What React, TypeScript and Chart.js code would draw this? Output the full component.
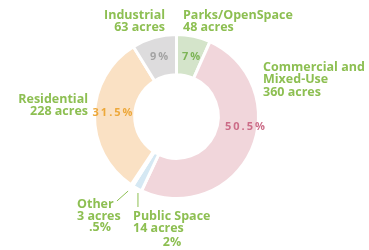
import React, { useEffect, useRef } from "react";
import { Chart, registerables } from "chart.js";

Chart.register(...registerables);

const categories = ["Parks/OpenSpace", "Commercial and Mixed-Use", "Public Space", "Other", "Residential", "Industrial"];
const acres = [48, 360, 14, 3, 228, 63];
const percentLabels = ["7%", "50.5%", "2%", ".5%", "31.5%", "9%"];
const sliceColors = ["#d4e4ca", "#f1d6db", "#d5e8f3", "#e4eef4", "#fae1c4", "#dddcdd"];
const percentColors = ["#7db456", "#cc6d88", "#8dbf52", "#8dbf52", "#eda83a", "#a3a3a3"];

const LABEL_GREEN = "#8dbf52";
const FONT = "'Open Sans', 'DejaVu Sans', sans-serif";

const labelPlugin = {
  id: "donutLabels",
  afterDraw(chart: any) {
    const ctx = chart.ctx as CanvasRenderingContext2D;
    const meta = chart.getDatasetMeta(0);
    const arc0 = meta.data[0] as any;
    const cx = arc0.x;
    const cy = arc0.y;
    const R = arc0.outerRadius;
    const P = (fx: number, fy: number) => [cx + fx * R, cy + fy * R];

    ctx.save();
    ctx.textBaseline = "middle";

    const lines = (txts: string[], fx: number, fy: number, align: CanvasTextAlign, color: string, lh = 12.7) => {
      const [x, y] = P(fx, fy);
      ctx.fillStyle = color;
      ctx.textAlign = align;
      ctx.font = `bold 12.5px ${FONT}`;
      txts.forEach((t, i) => ctx.fillText(t, x, y + i * lh));
    };

    // outer labels
    lines(["Industrial", `${acres[5]} acres`], -0.14, -1.238, "right", LABEL_GREEN);
    lines(["Parks/OpenSpace", `${acres[0]} acres`], 0.079, -1.238, "left", LABEL_GREEN);
    lines(["Commercial and", "Mixed-Use", `${acres[1]} acres`], 1.055, -0.604, "left", LABEL_GREEN);
    lines(["Residential", `${acres[4]} acres`], -1.079, -0.213, "right", LABEL_GREEN);
    lines(["Other", `${acres[3]} acres`], -1.213, 1.067, "left", LABEL_GREEN);
    lines([percentLabels[3]], -0.933, 1.354, "center", LABEL_GREEN);
    lines(["Public Space", `${acres[2]} acres`], -0.53, 1.213, "left", LABEL_GREEN);
    lines([percentLabels[2]], -0.055, 1.53, "center", LABEL_GREEN);

    // leader lines
    ctx.strokeStyle = LABEL_GREEN;
    ctx.lineWidth = 1;
    let [x1, y1] = P(-0.726, 1.03);
    let [x2, y2] = P(-0.59, 0.909);
    ctx.beginPath();
    ctx.moveTo(x1, y1);
    ctx.lineTo(x2, y2);
    ctx.stroke();
    [x1, y1] = P(-0.47, 0.933);
    [x2, y2] = P(-0.47, 1.104);
    ctx.beginPath();
    ctx.moveTo(x1, y1);
    ctx.lineTo(x2, y2);
    ctx.stroke();

    // percent labels inside ring
    const pct = (i: number, fx: number, fy: number) => {
      const [x, y] = P(fx, fy);
      ctx.fillStyle = percentColors[i];
      ctx.textAlign = "center";
      ctx.font = `bold 11px ${FONT}`;
      (ctx as any).letterSpacing = "2px";
      ctx.fillText(percentLabels[i], x + 1, y);
      (ctx as any).letterSpacing = "0px";
    };
    pct(5, -0.213, -0.726);
    pct(0, 0.177, -0.726);
    pct(1, 0.835, 0.128);
    pct(4, -0.78, -0.043);

    ctx.restore();
  },
};

export default function App() {
  const ref = useRef<HTMLCanvasElement | null>(null);

  useEffect(() => {
    document.body.style.margin = "0";
    const canvas = ref.current!;
    const chart = new Chart(canvas, {
      type: "doughnut",
      data: {
        labels: categories,
        datasets: [
          {
            data: acres,
            backgroundColor: sliceColors,
            borderColor: "#ffffff",
            borderWidth: 3,
            hoverOffset: 0,
          },
        ],
      },
      options: {
        responsive: false,
        animation: false,
        cutout: "51%",
        rotation: 0,
        layout: { padding: { top: 33, bottom: 50, left: 93, right: 109 } },
        plugins: {
          legend: { display: false },
          tooltip: { enabled: false },
        },
      },
      plugins: [labelPlugin],
    });
    return () => chart.destroy();
  }, []);

  return (
    <div style={{ position: "fixed", left: 0, top: 0, width: 369, height: 250, background: "#fff" }}>
      <canvas ref={ref} width={369} height={250} style={{ width: 369, height: 250 }} />
    </div>
  );
}
